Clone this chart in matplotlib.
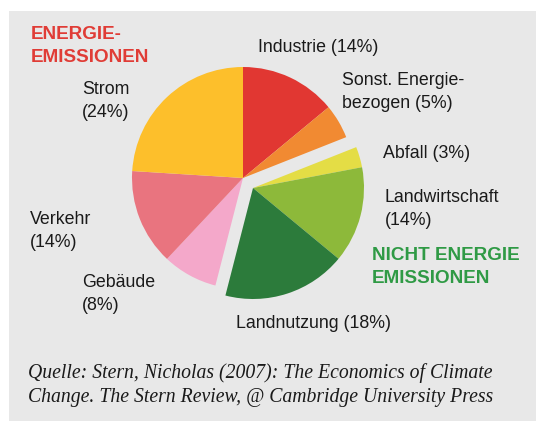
import matplotlib
matplotlib.use('Agg')
import matplotlib.pyplot as plt
from matplotlib.patches import Rectangle

plt.rcParams['font.family'] = ['Liberation Sans', 'DejaVu Sans']

# Daten (Anteile in %)
labels = ['Industrie', 'Sonst. Energie-bezogen', 'Abfall', 'Landwirtschaft',
          'Landnutzung', 'Gebäude', 'Verkehr', 'Strom']
shares = [14, 5, 3, 14, 18, 8, 14, 24]
colors = ['#e13732', '#f18a32', '#e4dd45', '#8db93a',
          '#2c7b3b', '#f4a8ca', '#e9747f', '#fdbf2b']
non_energy = ['Abfall', 'Landwirtschaft', 'Landnutzung']

W, H = 536, 421
fig = plt.figure(figsize=(W / 100, H / 100), dpi=100)
fig.patch.set_facecolor('white')
ax = fig.add_axes([0, 0, 1, 1])

# grauer Hintergrund
ax.add_patch(Rectangle((9, 0), W - 9, H - 11, facecolor='#e8e8e8',
                       edgecolor='none', zorder=0))

cx, cy, r = 243, H - 178, 111
wedges, _ = ax.pie(shares, colors=colors, startangle=90, counterclock=False,
                   radius=r, center=(cx, cy),
                   wedgeprops=dict(linewidth=0, edgecolor='none'))

# Nicht-Energie-Segmente gemeinsam herausrücken
for w, lab in zip(wedges, labels):
    w.set_zorder(2)
    if lab in non_energy:
        w.set_center((cx + 10, cy - 10))

ax.set_xlim(0, W)
ax.set_ylim(0, H)
ax.set_aspect('auto')
ax.axis('off')


def label(x, y, s):
    ax.text(x, H - y, s, ha='left', va='center', fontsize=12.8,
            color='#1a1a1a', linespacing=1.45)


ax.text(31, H - 46, 'ENERGIE-\nEMISSIONEN', ha='left', va='center',
        fontsize=13.6, fontweight='bold', color='#e03c36', linespacing=1.4)
ax.text(372, H - 267, 'NICHT ENERGIE\nEMISSIONEN', ha='left', va='center',
        fontsize=13.6, fontweight='bold', color='#2f9a45', linespacing=1.4)

label(258, 48, f'{labels[0]} ({shares[0]}%)')
label(342, 92, f'Sonst. Energie-\nbezogen ({shares[1]}%)')
label(383, 153, f'{labels[2]} ({shares[2]}%)')
label(385, 209, f'{labels[3]}\n({shares[3]}%)')
label(236, 324, f'{labels[4]} ({shares[4]}%)')
label(82, 294, f'{labels[5]}\n({shares[5]}%)')
label(30, 231, f'{labels[6]}\n({shares[6]}%)')
label(82, 101, f'{labels[7]}\n({shares[7]}%)')

ax.text(28, H - 385,
        'Quelle: Stern, Nicholas (2007): The Economics of Climate\n'
        'Change. The Stern Review, @ Cambridge University Press',
        ha='left', va='center', fontsize=14.2, style='italic',
        family=['Liberation Serif', 'DejaVu Serif'], color='#1a1a1a',
        linespacing=1.3)

fig.savefig('out.png', dpi=100, facecolor='white')
